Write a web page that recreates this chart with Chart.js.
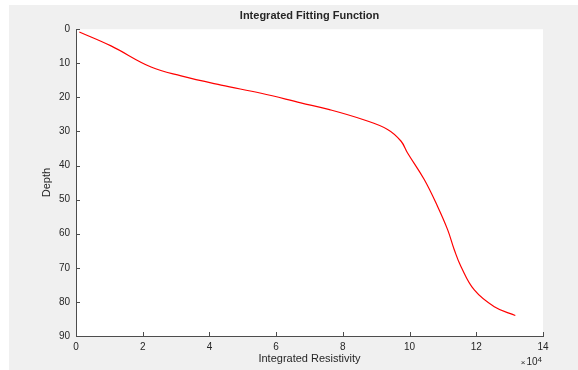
<!DOCTYPE html>
<html>
<head>
<meta charset="utf-8">
<script src="https://cdn.jsdelivr.net/npm/chart.js@4/dist/chart.umd.min.js"></script>
<style>
  html,body{margin:0;padding:0;background:#fff;}
  #wrap{position:absolute;left:9px;top:5px;width:569px;height:365px;background:#f0f0f0;}
</style>
</head>
<body>
<div id="wrap"><canvas id="chart"></canvas></div>
<script>
  // values (resistivity in raw units, depth)
  const resistivity=[1000,10500,22500,31500,43500,55500,67400,76000,86000,93400,97400,99400,104400,108400,111400,113400,115400,119400,125400,131700];
  const depth=[0.8,4.9,11.1,13.7,16.4,18.8,21.6,23.6,26.5,29.4,32.8,36.3,44.1,52,58.8,64.7,69.6,76.5,81.4,84.0];
  const TITLE="Integrated Fitting Function";
  const X_LABEL="Integrated Resistivity";
  const Y_LABEL="Depth";
  const X_EXP="4";

  const FONT="'Liberation Sans', Arial, Helvetica, sans-serif";
  const AX="#4d4d4d", TXT="#262626";

  const points=resistivity.map((r,i)=>({x:r,y:depth[i]}));

  // white axes box, inward ticks, and the x10^4 multiplier
  const matlabLook={
    id:"matlabLook",
    beforeDraw(c){
      const a=c.chartArea,ctx=c.ctx;
      ctx.save();ctx.fillStyle="#fff";ctx.fillRect(a.left,a.top,a.right-a.left,a.bottom-a.top);ctx.restore();
    },
    afterDraw(c){
      const a=c.chartArea,ctx=c.ctx,xs=c.scales.x,ys=c.scales.y;
      ctx.save();
      ctx.strokeStyle=AX;ctx.lineWidth=1;ctx.beginPath();
      xs.ticks.forEach(t=>{const px=Math.round(xs.getPixelForValue(t.value))+0.5;ctx.moveTo(px,a.bottom);ctx.lineTo(px,a.bottom-4);});
      ys.ticks.forEach(t=>{const py=Math.round(ys.getPixelForValue(t.value))+0.5;ctx.moveTo(a.left,py);ctx.lineTo(a.left+4,py);});
      ctx.stroke();
      const rx=a.right-1;
      ctx.fillStyle=TXT;ctx.textBaseline="alphabetic";ctx.textAlign="right";
      ctx.font="8px "+FONT;
      const ew=ctx.measureText(X_EXP).width;
      ctx.fillText(X_EXP,rx,a.bottom+26);
      ctx.font="10px "+FONT;
      const bw=ctx.measureText("10").width;
      ctx.fillText("10",rx-ew,a.bottom+29);
      ctx.font="8px "+FONT;
      ctx.fillText("\u00d7",rx-ew-bw-1,a.bottom+29);
      ctx.restore();
    }
  };

  new Chart(document.getElementById("chart"),{
    type:"scatter",
    data:{datasets:[{data:points,showLine:true,borderColor:"#ff0000",borderWidth:1.2,pointRadius:0,tension:0.4,fill:false}]},
    options:{
      responsive:true,maintainAspectRatio:false,animation:false,
      layout:{padding:{top:0,right:35,left:0,bottom:0}},
      plugins:{
        legend:{display:false},tooltip:{enabled:false},
        title:{display:true,text:TITLE,fullSize:false,color:TXT,font:{family:FONT,size:11,weight:"bold"},padding:{top:4,bottom:7}}
      },
      scales:{
        x:{type:"linear",min:0,max:140000,
          grid:{display:false,drawTicks:false},
          border:{display:true,color:AX,width:1},
          ticks:{stepSize:20000,padding:5,color:TXT,font:{family:FONT,size:10},maxRotation:0,callback:v=>v/10000},
          title:{display:true,text:X_LABEL,color:TXT,font:{family:FONT,size:11},padding:{top:0,bottom:4}},
          afterFit(s){s.height=34;}
        },
        y:{type:"linear",min:0,max:90,reverse:true,
          grid:{display:false,drawTicks:false},
          border:{display:true,color:AX,width:1},
          ticks:{stepSize:10,padding:6,color:TXT,font:{family:FONT,size:10}},
          title:{display:true,text:Y_LABEL,color:TXT,font:{family:FONT,size:11},padding:{top:31,bottom:0}},
          afterFit(s){s.width=67;}
        }
      }
    },
    plugins:[matlabLook]
  });
</script>
</body>
</html>
